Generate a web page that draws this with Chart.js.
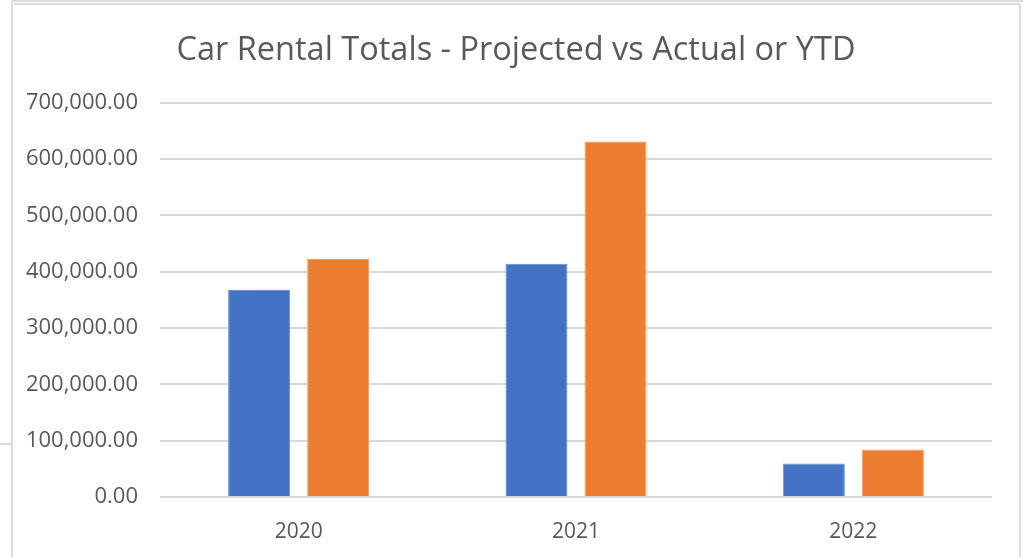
<!DOCTYPE html>
<html>
<head>
<meta charset="utf-8">
<script src="https://cdn.jsdelivr.net/npm/chart.js@4/dist/chart.umd.min.js"></script>
<style>
  html, body { margin: 0; padding: 0; background: #ffffff; }
  #wrap { position: relative; width: 1023px; height: 557px; }
</style>
</head>
<body>
<div id="wrap"><canvas id="chart" width="1023" height="557"></canvas></div>
<script>
const years = ['2020', '2021', '2022'];
const projected = [367700, 413900, 59300];
const actualOrYtd = [422700, 631200, 84200];
const yTicks = [0, 100000, 200000, 300000, 400000, 500000, 600000, 700000];

const gridGrey = '#d9d9d9';
const textGrey = '#595959';

// light frame lines around the chart object
const framePlugin = {
  id: 'frame',
  afterLayout(chart) {
    // centre the title across the whole framed object
    const t = chart.titleBlock;
    if (t) { t.left = 12; t.right = 1020; t.width = 1008; }
  },
  afterDraw(chart) {
    const ctx = chart.ctx;
    ctx.save();
    ctx.strokeStyle = '#dcdcdc';
    ctx.lineWidth = 2;
    ctx.beginPath();
    ctx.moveTo(12, 1); ctx.lineTo(1023, 1);
    ctx.moveTo(14, 4); ctx.lineTo(1020, 4);
    ctx.moveTo(12, 1); ctx.lineTo(12, 557);
    ctx.moveTo(1020, 4); ctx.lineTo(1020, 557);
    ctx.moveTo(0, 444); ctx.lineTo(12, 444);
    ctx.stroke();
    ctx.restore();
  }
};

new Chart(document.getElementById('chart'), {
  type: 'bar',
  data: {
    labels: years,
    datasets: [
      {
        label: 'Projected',
        data: projected,
        backgroundColor: '#4472C4',
        borderColor: '#6a8fd2',
        borderWidth: 1,
        borderSkipped: 'bottom',
        categoryPercentage: 0.57,
        barPercentage: 0.785
      },
      {
        label: 'Actual or YTD',
        data: actualOrYtd,
        backgroundColor: '#ED7D31',
        borderColor: '#f29a5e',
        borderWidth: 1,
        borderSkipped: 'bottom',
        categoryPercentage: 0.57,
        barPercentage: 0.785
      }
    ]
  },
  options: {
    responsive: false,
    animation: false,
    devicePixelRatio: 1,
    layout: { padding: { left: 12, right: 31, top: 0, bottom: 15 } },
    plugins: {
      legend: { display: false },
      tooltip: { enabled: false },
      title: {
        display: true,
        text: 'Car Rental Totals - Projected vs Actual or YTD',
        color: textGrey,
        font: { family: 'Open Sans', size: 32.5, weight: 'normal' },
        padding: { top: 31, bottom: 32.7 }
      }
    },
    scales: {
      x: {
        grid: { display: false, drawTicks: false },
        border: { display: false },
        ticks: {
          color: textGrey,
          padding: 22,
          font: { family: 'Open Sans', size: 21 }
        },
        afterFit(scale) { scale.height = 45; }
      },
      y: {
        min: 0,
        max: 700000,
        afterBuildTicks(scale) { scale.ticks = yTicks.map(v => ({ value: v })); },
        grid: { color: gridGrey, lineWidth: 2, drawTicks: false },
        border: { display: false },
        ticks: {
          color: textGrey,
          padding: 22,
          font: { family: 'Open Sans', size: 22 },
          callback: v => Number(v).toLocaleString('en-US', { minimumFractionDigits: 2, maximumFractionDigits: 2 })
        },
        afterFit(scale) { scale.width = 148; }
      }
    }
  },
  plugins: [framePlugin]
});
</script>
</body>
</html>
